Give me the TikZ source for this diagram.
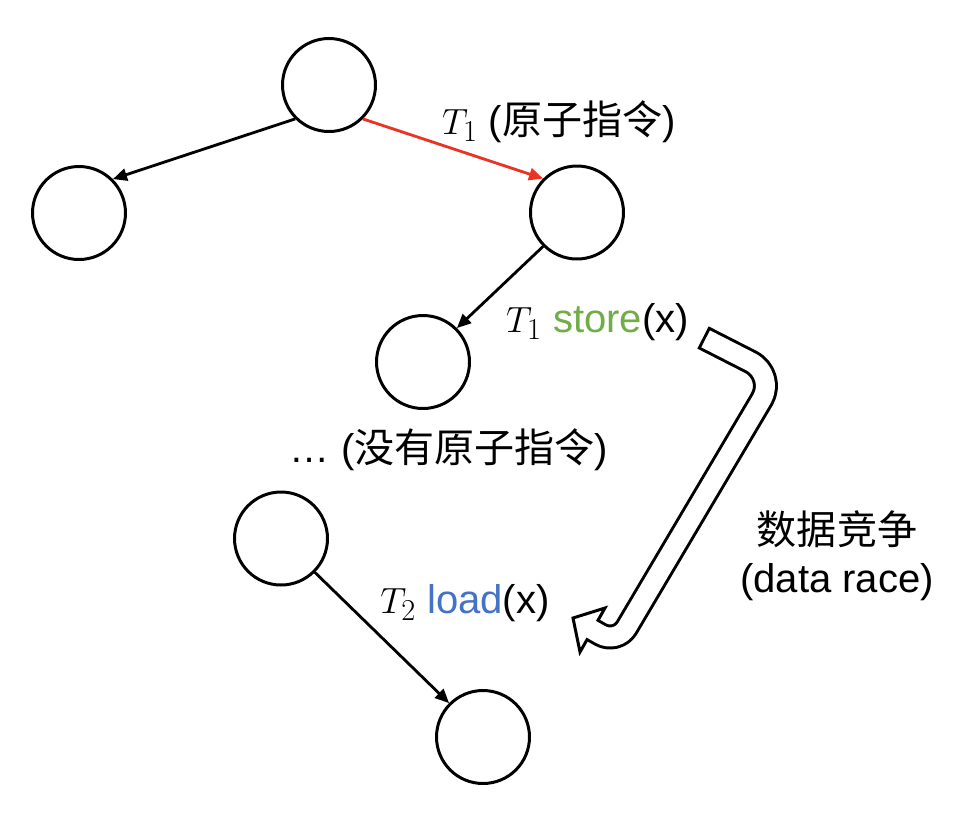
\documentclass[tikz,border=0pt]{standalone}
\usepackage{amsmath}
\usepackage{fontspec}
\setmainfont{Liberation Sans}
\newfontfamily\cjk{Noto Sans CJK SC}
\usepackage{tikz}
\usetikzlibrary{positioning, arrows.meta}
\definecolor{atomred}{RGB}{234,51,35}
\definecolor{storegreen}{RGB}{112,173,71}
\definecolor{loadblue}{RGB}{68,114,196}

\begin{document}
\begin{tikzpicture}[x=0.02cm, y=-0.02cm,
    state/.style={draw, circle, line width=1.7pt, minimum size=1.86cm, inner sep=0pt},
    link/.style={-{Triangle[length=8pt, width=7pt]}, line width=1.6pt},
    lbl/.style={inner sep=0pt, font=\fontsize{22.8}{27.3}\selectfont}]
    \useasboundingbox (0,0) rectangle (980,826);
    % states of the tree
    \node (Root) [state] at (329,85) {};
    \node (Left) [state] at (79,213) {};
    \node (Right) [state] at (577,212.5) {};
    \node (Mid) [state] at (423,362) {};
    \node (Low) [state] at (281,538.5) {};
    \node (Bot) [state] at (483,737) {};
    \draw [link] (Root.south west) -- (Left.north east);
    \draw [link, atomred] (Root.south east) -- (Right.north west);
    \draw [link] (Right.south west) -- (Mid.north east);
    \draw [link] (Low.south east) -- (Bot.north west);
    % labels
    \node (AtomLbl) [lbl] at (559,122) {$T_1$ ({\cjk 原子指令})};
    \node (StoreLbl) [lbl] at (597.5,322) {$T_1$ \textcolor{storegreen}{store}(x)};
    \node (GapLbl) [lbl] at (449,450) {… ({\cjk 没有原子指令})};
    \node (LoadLbl) [lbl] at (465,603) {$T_2$ \textcolor{loadblue}{load}(x)};
    \node (RaceLbl) [lbl, align=center] at (837,556) {{\cjk 数据竞争}\\(data race)};
    % hollow bent arrow
    \draw [line width=14.2pt, line join=round] (703,337.5) -- (751,362) .. controls (764.6,369.2) and (769.4,386) .. (762,399) -- (626.7,627.6) .. controls (621.4,636.6) and (609.6,639.7) .. (600.5,634.5) -- (593.5,630.5);
    \draw [fill=white, line width=1.7pt] (573,618) -- (580,652) -- (605,608) -- cycle;
    \draw [white, line width=10.8pt, line join=round, shorten <=1.7pt, shorten >=-4pt] (703,337.5) -- (751,362) .. controls (764.6,369.2) and (769.4,386) .. (762,399) -- (626.7,627.6) .. controls (621.4,636.6) and (609.6,639.7) .. (600.5,634.5) -- (593.5,630.5);
\end{tikzpicture}
\end{document}
